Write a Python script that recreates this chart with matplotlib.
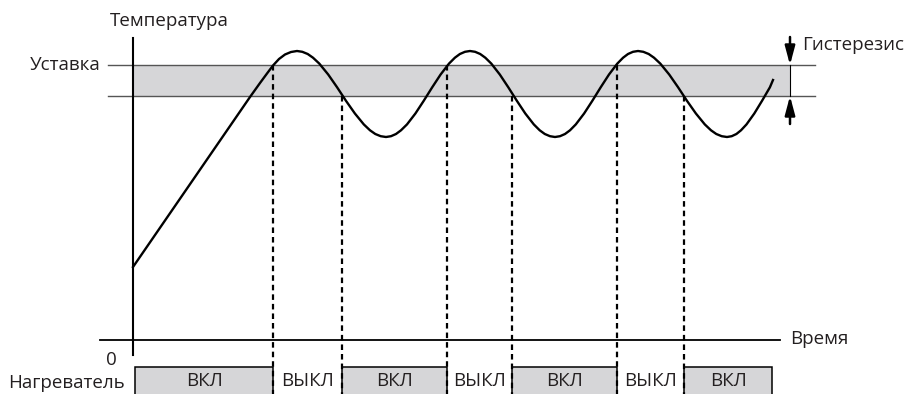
import matplotlib
matplotlib.use("Agg")
import matplotlib.pyplot as plt
from matplotlib.patches import Rectangle

plt.rcParams['font.family'] = ['Open Sans', 'DejaVu Sans']

# picture coordinates (x to the right, y downwards)
curve_x = [133, 250, 260, 267, 273, 279, 285, 291, 297,
           302.3, 307.7, 313, 319.3, 328.2, 337.1, 345.9, 354.9, 363.8, 370, 375.3, 380.7, 386,
           391, 396, 401, 407, 415.4, 423.8, 432.2, 440.6, 449, 454.9, 459.9, 465, 470,
           475.1, 480.2, 485.3, 491.3, 499.8, 508.3, 516.8, 525.3, 533.8, 539.7, 544.8, 550, 555,
           560, 565, 570, 575.8, 584.1, 592.4, 600.7, 609, 617.3, 623.1, 628, 633, 638,
           643.3, 648.7, 654, 660.3, 669.2, 678.1, 686.9, 695.9, 704.8, 711, 716.3, 721.7, 727,
           731.7, 736.4, 741, 746.5, 754.3, 762.1, 769.9, 773]
curve_y = [267, 97, 83, 73.5, 65.5, 59, 54.5, 52, 51,
           51.8, 54, 57.7, 63.6, 74.5, 87.3, 100.7, 113.5, 124.4, 130.3, 134, 136.2, 137,
           136.2, 134, 130.3, 124.4, 113.5, 100.7, 87.3, 74.5, 63.6, 57.7, 54, 51.8, 51,
           51.8, 54, 57.7, 63.6, 74.5, 87.3, 100.7, 113.5, 124.4, 130.3, 134, 136.2, 137,
           136.2, 134, 130.3, 124.4, 113.5, 100.7, 87.3, 74.5, 63.6, 57.7, 54, 51.8, 51,
           51.8, 54, 57.7, 63.6, 74.5, 87.3, 100.7, 113.5, 124.4, 130.3, 134, 136.2, 137,
           136.2, 134, 130.3, 124.4, 113.5, 100.7, 87.3, 80]

setpoint_y = 65
lower_y = 96
switch_x = [273, 342, 447, 512, 617, 684]
switch_y = [65, 96, 65, 96, 65, 96]
on_start = [135, 342, 512, 684]
on_end = [273, 447, 617, 772]
off_start = [273, 447, 617]
off_end = [342, 512, 684]

fig = plt.figure(figsize=(9.07, 3.94), dpi=100)
ax = fig.add_axes([0, 0, 1, 1])
ax.set_xlim(0, 907)
ax.set_ylim(394, 0)
ax.axis('off')

txt = '#231f20'
fs = 13.5

# hysteresis band
ax.add_patch(Rectangle((133, setpoint_y), 790 - 133, lower_y - setpoint_y,
                       facecolor='#d6d6d8', edgecolor='none', zorder=1))
ax.plot([108, 815], [setpoint_y, setpoint_y], color='#555555', lw=1.0, zorder=2)
ax.plot([108, 815], [lower_y, lower_y], color='#555555', lw=1.0, zorder=2)
ax.plot([790, 790], [setpoint_y, lower_y], color='k', lw=0.8, zorder=2)

# axes
ax.plot([133, 133], [38, 355], color='k', lw=1.5, zorder=3)
ax.plot([100, 780], [340, 340], color='k', lw=1.3, zorder=3)

# temperature curve
ax.plot(curve_x, curve_y, color='k', lw=1.7, zorder=4, solid_joinstyle='round')

# switching points
for x, y in zip(switch_x, switch_y):
    ax.plot([x, x], [y, 394], color='k', lw=1.6, ls=(0, (2.5, 1.8)), zorder=3)

# heater bar
for s, e in zip(on_start, on_end):
    ax.add_patch(Rectangle((s, 367), e - s, 40, facecolor='#d6d6d8',
                           edgecolor='k', lw=1.1, zorder=2))
    ax.text((s + e) / 2, 381, 'ВКЛ', ha='center', va='center', fontsize=fs, color=txt)
for s, e in zip(off_start, off_end):
    ax.text((s + e) / 2, 381, 'ВЫКЛ', ha='center', va='center', fontsize=fs, color=txt)

# hysteresis arrows
arrow = dict(arrowstyle='-|>,head_length=0.75,head_width=0.2', color='k', lw=1.8,
             mutation_scale=15, shrinkA=0, shrinkB=0)
ax.annotate('', xy=(790, setpoint_y), xytext=(790, 37), arrowprops=arrow, zorder=5)
ax.annotate('', xy=(790, lower_y), xytext=(790, 124), arrowprops=arrow, zorder=5)

# labels
ax.text(110, 21, 'Температура', ha='left', va='center', fontsize=fs, color=txt)
ax.text(101, 65, 'Уставка', ha='right', va='center', fontsize=fs, color=txt)
ax.text(802, 45, 'Гистерезис', ha='left', va='center', fontsize=fs, color=txt)
ax.text(790, 339, 'Время', ha='left', va='center', fontsize=fs, color=txt)
ax.text(117, 360, '0', ha='right', va='center', fontsize=fs, color=txt)
ax.text(8, 383, 'Нагреватель', ha='left', va='center', fontsize=fs, color=txt)

fig.savefig('out.png', dpi=100)
